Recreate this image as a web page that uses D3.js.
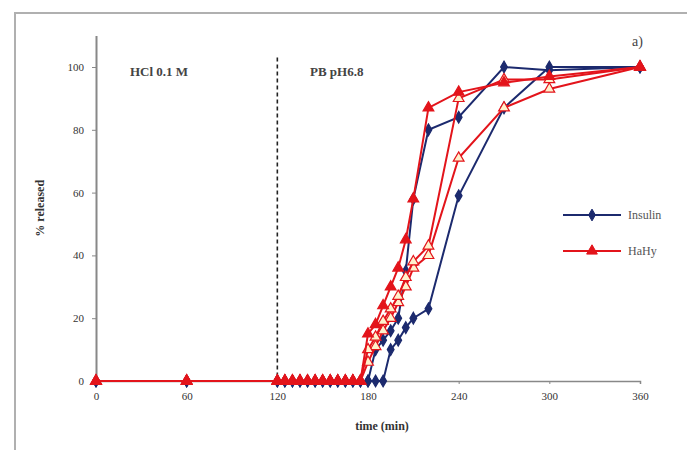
<!DOCTYPE html>
<html>
<head>
<meta charset="utf-8">
<script src="https://cdn.jsdelivr.net/npm/d3@7"></script>
<style>
	body { margin: 0; background: #fff; }
	svg { display: block; font-family: 'Liberation Serif', 'Times New Roman', serif; }
	.axis path, .axis line { stroke: #888; }
	.axis text { fill: #333; font-size: 11px; font-family: 'Liberation Serif', serif; }
</style>
</head>
<body>
<div id="chart"></div>
<script>
// Sampling times (min)
var times = [0, 60, 120, 125, 130, 135, 140, 145, 150, 155, 160, 165, 170, 175,
	180, 185, 190, 195, 200, 205, 210, 220, 240, 270, 300, 360];

// % released
var zeros = [0, 0, 0, 0, 0, 0, 0, 0, 0, 0, 0, 0, 0, 0];
var insulinA = zeros.concat([0, 10, 13, 16, 20, 35, 58, 80, 84, 100, 99, 100]);
var insulinB = zeros.concat([0, 0, 0, 10, 13, 17, 20, 23, 59, 87, 100, 100]);
var hahyA = zeros.concat([15, 18, 24, 30, 36, 45, 58, 87, 92, 95, 97, 100]);
var hahyB = zeros.concat([10, 14, 19, 23, 27, 33, 38, 43, 90, 96, 96, 100]);
var hahyC = zeros.concat([6, 11, 16, 20, 25, 30, 36, 40, 71, 87, 93, 100]);

var xTicks = [0, 60, 120, 180, 240, 300, 360];
var yTicks = [0, 20, 40, 60, 80, 100];
var legendLabels = ['Insulin', 'HaHy'];

var blue = '#1c2a6e';
var red = '#e3141b';

var series = [
	{values: insulinA, color: blue, symbol: 'diamond', open: false},
	{values: insulinB, color: blue, symbol: 'diamond', open: false},
	{values: hahyC, color: red, symbol: 'triangle', open: true},
	{values: hahyB, color: red, symbol: 'triangle', open: true},
	{values: hahyA, color: red, symbol: 'triangle', open: false}
];

var svg = d3.select('#chart').append('svg')
	.attr('width', 687)
	.attr('height', 450);

// Frame
svg.append('rect')
	.attr('x', 15).attr('y', 13)
	.attr('width', 700).attr('height', 460)
	.attr('fill', 'none')
	.attr('stroke', '#b0b0b0')
	.attr('stroke-width', 2);

var x = d3.scaleLinear().domain([0, 360]).range([96, 640]);
var y = d3.scaleLinear().domain([0, 110]).range([381, 35.6]);

// Axes
svg.append('g')
	.attr('class', 'axis axis-x')
	.attr('transform', 'translate(0,' + y(0) + ')')
	.call(d3.axisBottom(x).tickValues(xTicks).tickSize(3).tickPadding(8))
	.call(function(g) { g.select('.domain').attr('stroke-width', 1.5); });

svg.append('g')
	.attr('class', 'axis axis-y')
	.attr('transform', 'translate(' + x(0) + ',0)')
	.call(d3.axisLeft(y).tickValues(yTicks).tickSize(4).tickPadding(8).tickSizeOuter(0))
	.call(function(g) { g.select('.domain').attr('stroke-width', 2).attr('stroke', '#aaa'); });

// Dashed separator at 120 min
svg.append('line')
	.attr('x1', x(120)).attr('x2', x(120))
	.attr('y1', y(103)).attr('y2', y(0))
	.attr('stroke', '#222')
	.attr('stroke-width', 1.6)
	.attr('stroke-dasharray', '4,3');

// Lines and markers
var line = d3.line()
	.x(function(d, i) { return x(times[i]); })
	.y(function(d) { return y(d); });

var symbolFor = function(s) {
	return s === 'diamond'
		? d3.symbol().type(d3.symbolDiamond).size(40)
		: d3.symbol().type(d3.symbolTriangle).size(50);
};

series.forEach(function(s) {
	svg.append('path')
		.datum(s.values)
		.attr('fill', 'none')
		.attr('stroke', s.color)
		.attr('stroke-width', 2)
		.attr('d', line);

	svg.append('g').selectAll('path')
		.data(s.values)
		.enter().append('path')
			.attr('transform', function(d, i) { return 'translate(' + x(times[i]) + ',' + y(d) + ')'; })
			.attr('d', symbolFor(s.symbol))
			.attr('fill', s.open ? '#fff1cc' : s.color)
			.attr('stroke', s.color)
			.attr('stroke-width', 1.2);
});

// Annotations
svg.append('text')
	.attr('x', 130).attr('y', 76)
	.attr('font-size', 13).attr('font-weight', 'bold').attr('fill', '#444')
	.text('HCl 0.1 M');

svg.append('text')
	.attr('x', 310).attr('y', 76)
	.attr('font-size', 13).attr('font-weight', 'bold').attr('fill', '#444')
	.text('PB pH6.8');

svg.append('text')
	.attr('x', 632).attr('y', 46)
	.attr('font-size', 14).attr('fill', '#444')
	.text('a)');

// Axis titles
svg.append('text')
	.attr('x', 382).attr('y', 430)
	.attr('text-anchor', 'middle')
	.attr('font-size', 12).attr('font-weight', 'bold').attr('fill', '#333')
	.text('time (min)');

svg.append('text')
	.attr('transform', 'translate(44,' + y(55) + ') rotate(-90)')
	.attr('text-anchor', 'middle')
	.attr('font-size', 12).attr('font-weight', 'bold').attr('fill', '#333')
	.text('% released');

// Legend
var legend = svg.append('g').attr('class', 'legend');
[{label: legendLabels[0], color: blue, symbol: 'diamond'},
 {label: legendLabels[1], color: red, symbol: 'triangle'}].forEach(function(d, i) {
	var ly = 215 + i * 36;
	legend.append('line')
		.attr('x1', 563).attr('x2', 621)
		.attr('y1', ly).attr('y2', ly)
		.attr('stroke', d.color).attr('stroke-width', 2);
	legend.append('path')
		.attr('transform', 'translate(592,' + ly + ')')
		.attr('d', symbolFor(d.symbol))
		.attr('fill', d.color).attr('stroke', d.color);
	legend.append('text')
		.attr('x', 628).attr('y', ly + 4)
		.attr('font-size', 12).attr('fill', '#555')
		.text(d.label);
});
</script>
</body>
</html>
